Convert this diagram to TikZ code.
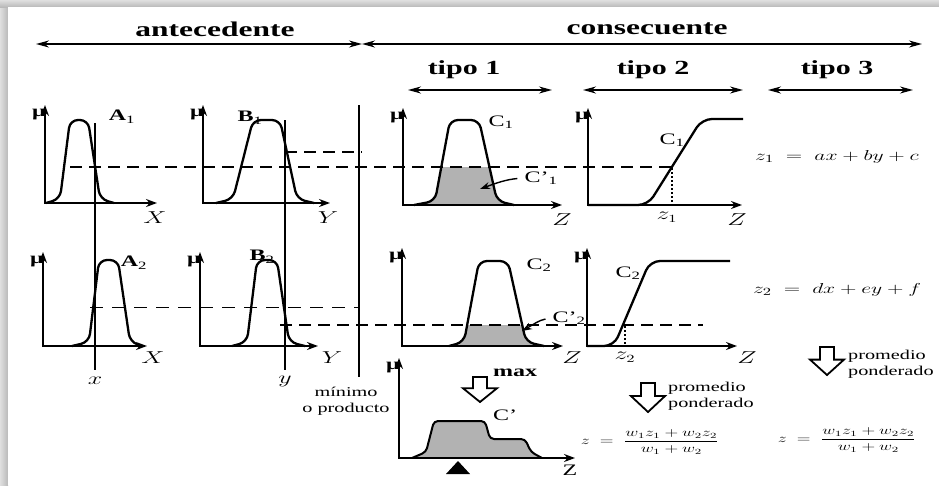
\documentclass[tikz,border=0pt]{standalone}
\usepackage{fontspec}
\setmainfont{Liberation Serif}[FakeStretch=1.5]
\usepackage{graphicx}
\usetikzlibrary{arrows.meta}
\newcommand{\wm}[1]{\scalebox{1.5}[1]{$#1$}}
\newcommand{\axes}[5]{%
  \draw[axis] (#2,#5) |- (#4,#3);
  \node[mu] (#1) at ({#2+1},{#5+10}) {μ};}
\newcommand{\fatdown}[3]{%
  \draw[hollow] ({#1-7},#2) -- ({#1+7},#2) -- ({#1+7},{#2+0.45*#3})
    -- ({#1+17},{#2+0.45*#3}) -- (#1,{#2+#3}) -- ({#1-17},{#2+0.45*#3})
    -- ({#1-7},{#2+0.45*#3}) -- cycle;}
\newcommand{\cAone}{(46,203) -- (60,199) -- (70,120) -- (88,120) -- (100,199) -- (114,203)}
\newcommand{\cBone}{(216,203) -- (233,199) -- (253,120) -- (280,120) -- (297,199) -- (314,203)}
\newcommand{\cAtwo}{(72,346) -- (89,342) -- (99,260) -- (118,260) -- (130,342) -- (142,346)}
\newcommand{\cBtwo}{(232,346) -- (247,342) -- (257,260) -- (277,260) -- (289,342) -- (305,346)}
\newcommand{\cCone}{(414,205) -- (435,201) -- (450,120) -- (479,120) -- (497,201) -- (514,205)}
\newcommand{\cCtwo}{(449,346) -- (464,342) -- (479,261) -- (508,261) -- (526,342) -- (544,346)}
\newcommand{\cSone}{(588,205) -- (648,205) -- (702,119) -- (743,119)}
\newcommand{\cStwo}{(587,346) -- (614,346) -- (650,261) -- (730,261)}
\newcommand{\cOut}{(412,458) -- (426,452) -- (434,421) -- (485,421) -- (490,439) -- (525,439) -- (531,452) -- (542,458)}

\begin{document}
\begin{tikzpicture}[x=1pt, y=-1pt,
    axis/.style={line width=1.6pt, <->, >={Stealth[length=11pt,width=8pt]}},
    span/.style={line width=1.5pt, <->, >={Stealth[length=13pt,width=7pt]}},
    mf/.style={line width=2.3pt, rounded corners=8pt, line join=round},
    cut/.style={line width=1.6pt, dash pattern=on 12pt off 7pt},
    cutthin/.style={line width=0.9pt, dash pattern=on 13pt off 9pt},
    guide/.style={line width=1.1pt},
    pick/.style={line width=1.8pt, dash pattern=on 2pt off 2pt},
    area/.style={fill=gray!60},
    hollow/.style={line width=1.8pt, fill=white, line join=miter},
    ptr/.style={line width=1.4pt, -{Stealth[length=10pt,width=7pt]}, shorten <=6pt},
    mu/.style={font=\fontsize{16}{16}\selectfont\bfseries, anchor=east, inner sep=0pt},
    lab/.style={font=\fontsize{16}{16}\selectfont, inner sep=1pt},
    head/.style={font=\fontsize{21}{24}\selectfont\bfseries},
    kind/.style={font=\fontsize{20}{24}\selectfont\bfseries},
    note/.style={font=\fontsize{13.5}{16}\selectfont, align=left, inner sep=0pt},
    eq/.style={font=\fontsize{15}{18}\selectfont, inner sep=0pt},
    eqs/.style={font=\fontsize{12}{14}\selectfont, inner sep=0pt},
  ]
  \useasboundingbox (0,0) rectangle (939,485);
  \shade[left color=gray!25, right color=gray!55] (0,0) rectangle (8,485);
  \shade[top color=gray!25, bottom color=gray!55] (0,0) rectangle (939,7);
  \fill[white] (8,7) rectangle (939,485);

  \node[head] (ante) at (215,29) {antecedente};
  \node[head] (cons) at (647,29) {consecuente};
  \coordinate (anteL) at (36,44);
  \coordinate (split) at (362,44);
  \coordinate (consR) at (922,44);
  \draw[span] (anteL) -- (split);
  \draw[span] (split) -- (consR);

  \node[kind] (tipoA) at (464,70) {tipo 1};
  \node[kind] (tipoB) at (653,70) {tipo 2};
  \node[kind] (tipoC) at (837,70) {tipo 3};
  \coordinate (tAl) at (408,90);  \coordinate (tAr) at (552,90);
  \coordinate (tBl) at (583,90);  \coordinate (tBr) at (743,90);
  \coordinate (tCl) at (768,90);  \coordinate (tCr) at (913,90);
  \draw[span] (tAl) -- (tAr);
  \draw[span] (tBl) -- (tBr);
  \draw[span] (tCl) -- (tCr);

  \begin{scope}
    \clip[rounded corners=8pt] \cCone -- cycle;
    \fill[area] (400,167) rectangle (520,206);
  \end{scope}
  \begin{scope}
    \clip[rounded corners=8pt] \cCtwo -- cycle;
    \fill[area] (440,325) rectangle (550,347);
  \end{scope}
  \fill[area, rounded corners=4pt] \cOut -- cycle;
  \draw[line width=2pt, rounded corners=4pt, line join=round] \cOut;

  \draw[guide] (95,123) -- (95,370);
  \draw[guide] (285,120) -- (285,370);
  \draw[guide] (359,105) -- (359,377);

  \node[lab] (labA1) at (122,117) {\textbf{A}\textsubscript{1}};
  \node[lab] (labB1) at (250,118) {\textbf{B}\textsubscript{1}};
  \node[lab] (labA2) at (134,263) {\textbf{A}\textsubscript{2}};
  \node[lab] (labB2) at (262,257) {\textbf{B}\textsubscript{2}};
  \node[lab] (labC1) at (501,122) {C\textsubscript{1}};
  \node[lab] (labS1) at (672,140) {C\textsubscript{1}};
  \node[lab] (labC2) at (539,265) {C\textsubscript{2}};
  \node[lab] (labS2) at (628,273) {C\textsubscript{2}};
  \node[lab] (cp1) at (541,178) {C’\textsubscript{1}};
  \node[lab] (cp2) at (569,318) {C’\textsubscript{2}};
  \node[lab] (cpo) at (505,415) {C’};

  \draw[mf] \cAone;
  \draw[mf] \cBone;
  \draw[mf] \cAtwo;
  \draw[mf] \cBtwo;
  \draw[mf] \cCone;
  \draw[mf] \cCtwo;
  \draw[mf, rounded corners=10pt] \cSone;
  \draw[mf, rounded corners=10pt] \cStwo;

  \draw[cut] (70,167) -- (672,167);
  \draw[cut] (285,152) -- (362,152);
  \draw[cutthin] (90,307) -- (360,307);
  \draw[cut] (280,325) -- (703,325);
  \draw[pick] (672,168) -- (672,205);
  \draw[pick] (625,326) -- (625,346);

  \axes{muA1}{45}{203}{157}{105}
  \axes{muB1}{203}{203}{330}{105}
  \axes{muA2}{43}{346}{147}{252}
  \axes{muB2}{200}{346}{318}{252}
  \axes{muC1}{403}{205}{562}{108}
  \axes{muS1}{588}{205}{742}{108}
  \axes{muC2}{402}{346}{563}{248}
  \axes{muS2}{587}{346}{737}{248}
  \axes{muCo}{399}{458}{575}{358}

  \coordinate (tip1) at (480,189);
  \coordinate (tip2) at (522,331);
  \draw[ptr] (cp1.west) to[out=185,in=20] (tip1);
  \draw[ptr] (cp2.west) to[out=190,in=30] (tip2);

  \node[lab] (ax1) at (155,218) {\wm{X}};
  \node[lab] (ay1) at (328,218) {\wm{Y}};
  \node[lab] (az1) at (562,220) {\wm{Z}};
  \node[lab] (az2) at (737,220) {\wm{Z}};
  \node[lab] (zv1) at (667,217) {\wm{z_1}};
  \node[lab] (ax2) at (153,358) {\wm{X}};
  \node[lab] (ay2) at (332,358) {\wm{Y}};
  \node[lab] (az3) at (572,358) {\wm{Z}};
  \node[lab] (az4) at (747,358) {\wm{Z}};
  \node[lab] (zv2) at (625,357) {\wm{z_2}};
  \node[lab] (xin) at (95,381) {\wm{x}};
  \node[lab] (yin) at (285,381) {\wm{y}};
  \node[lab] (azo) at (570,470) {Z};

  \fill (458,461) -- (470,474) -- (446,474) -- cycle;

  \node[note, align=center] (tnorm) at (346,401) {mínimo\\o producto};
  \fatdown{480}{377}{25}
  \node[lab] (maxl) at (515,373) {\textbf{max}};
  \fatdown{648}{383}{29}
  \node[note, anchor=west] (avgB) at (668,396) {promedio\\ponderado};
  \fatdown{827}{347}{28}
  \node[note, anchor=west] (avgC) at (848,364) {promedio\\ponderado};

  \node[eq] (rule1) at (837,157) {\wm{z_1 \;=\; ax+by+c}};
  \node[eq] (rule2) at (837,290) {\wm{z_2 \;=\; dx+ey+f}};
  \node[eqs] (outB) at (650,442) {\wm{z \;=\; \displaystyle\frac{w_1z_1+w_2z_2}{w_1+w_2}}};
  \node[eqs] (outC) at (847,440) {\wm{z \;=\; \displaystyle\frac{w_1z_1+w_2z_2}{w_1+w_2}}};
\end{tikzpicture}
\end{document}
